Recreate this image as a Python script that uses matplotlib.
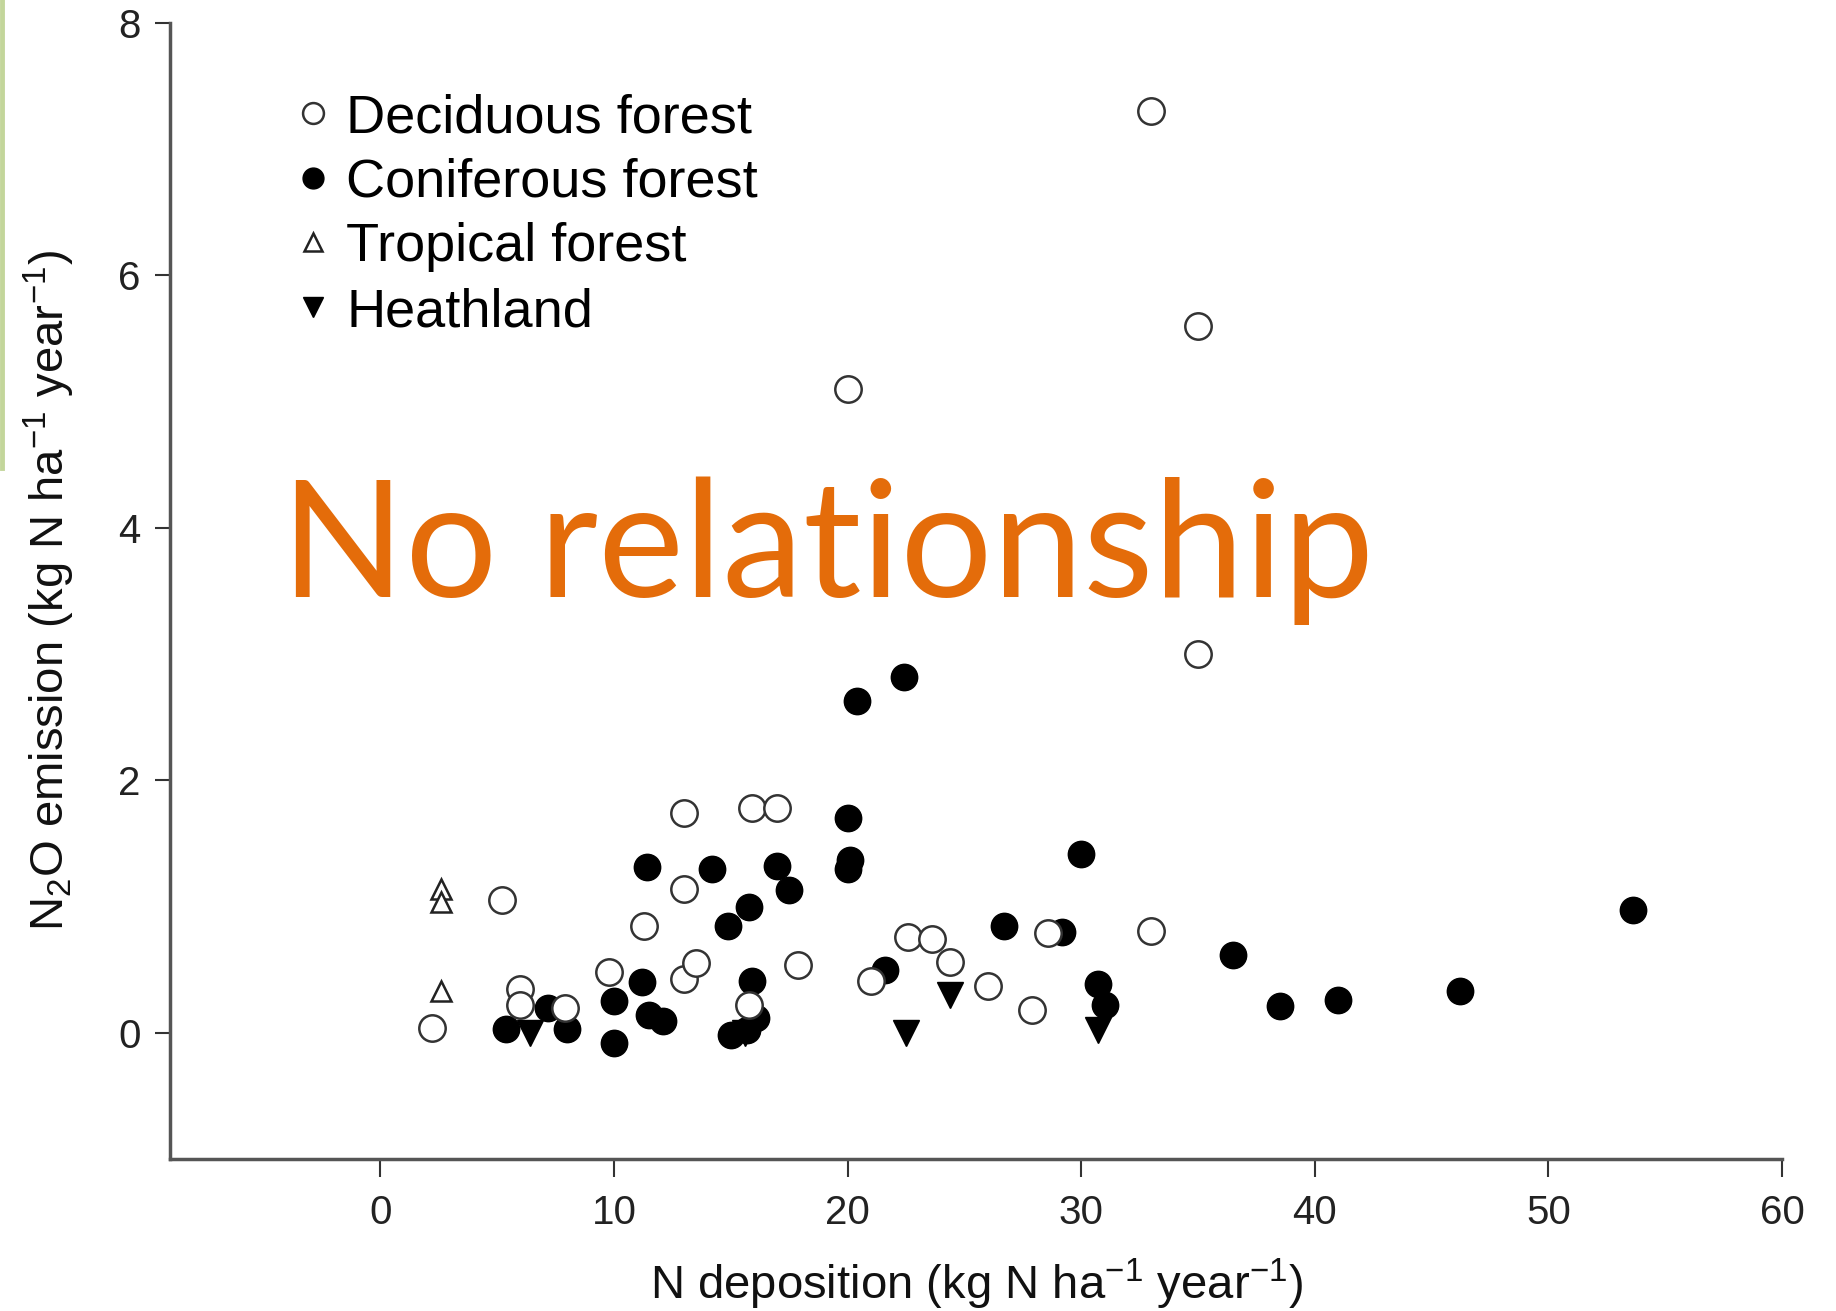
import matplotlib.pyplot as plt
from matplotlib.lines import Line2D

# N deposition (x) vs N2O emission (y)
decid_x = [2.2, 5.2, 6.0, 6.0, 7.9, 9.8, 11.3, 13.0, 13.0, 13.0, 13.5, 15.9, 17.0,
           15.8, 17.9, 20.0, 21.0, 22.6, 23.6, 24.4, 26.0, 27.9, 28.6, 33.0, 33.0,
           35.0, 35.0]
decid_y = [0.04, 1.05, 0.35, 0.22, 0.2, 0.48, 0.85, 1.74, 1.14, 0.43, 0.55, 1.78, 1.78,
           0.22, 0.54, 5.1, 0.41, 0.76, 0.74, 0.56, 0.37, 0.18, 0.79, 7.3, 0.81,
           5.6, 3.0]

conif_x = [5.4, 7.2, 8.0, 10.0, 10.0, 11.2, 11.4, 11.5, 12.1, 14.2, 14.9, 15.8,
           17.0, 17.5, 15.0, 15.7, 16.1, 15.9, 20.0, 20.0, 20.1, 20.4, 22.4, 21.6,
           26.7, 29.2, 30.0, 30.7, 31.0, 36.5, 38.5, 41.0, 46.2, 53.6]
conif_y = [0.03, 0.2, 0.03, 0.25, -0.08, 0.4, 1.31, 0.14, 0.09, 1.3, 0.85, 1.0,
           1.32, 1.13, -0.02, 0.02, 0.12, 0.41, 1.7, 1.3, 1.37, 2.63, 2.82, 0.5,
           0.85, 0.8, 1.42, 0.39, 0.22, 0.62, 0.21, 0.26, 0.33, 0.97]

trop_x = [2.6, 2.6, 2.6]
trop_y = [1.14, 1.04, 0.33]

heath_x = [6.4, 15.6, 22.5, 24.4, 30.7]
heath_y = [0.0, 0.0, 0.0, 0.3, 0.02]

x_ticks = [0, 10, 20, 30, 40, 50, 60]
y_ticks = [0, 2, 4, 6, 8]

plt.rcParams['font.family'] = ['Liberation Sans', 'DejaVu Sans']
plt.rcParams['mathtext.fontset'] = 'custom'
plt.rcParams['mathtext.rm'] = 'Liberation Sans'

fig = plt.figure(figsize=(18.36, 13.11), dpi=100)
ax = fig.add_axes([0.0926, 0.1159, 0.878, 0.8666])

ms = 19
ax.plot(heath_x, heath_y, 'v', color='black', markersize=ms, linestyle='none',
        label='Heathland', zorder=2)
ax.plot(conif_x, conif_y, 'o', color='black', markersize=ms, linestyle='none',
        label='Coniferous forest', zorder=3)
ax.plot(trop_x, trop_y, '^', markerfacecolor='white', markeredgecolor='#222222',
        markeredgewidth=1.8, markersize=14, linestyle='none', label='Tropical forest', zorder=4)
ax.plot(decid_x, decid_y, 'o', markerfacecolor='white', markeredgecolor='#333333',
        markeredgewidth=1.8, markersize=ms, linestyle='none', label='Deciduous forest', zorder=4)

ax.set_xlim(-9, 60)
ax.set_ylim(-1, 8)
ax.set_xticks(x_ticks)
ax.set_yticks(y_ticks)
ax.tick_params(axis='both', direction='out', labelsize=29, colors='#333333',
               width=1.5, labelcolor='#222222')
ax.tick_params(axis='x', length=13, pad=12)
ax.tick_params(axis='y', length=11, pad=10)

for side in ['top', 'right']:
    ax.spines[side].set_visible(False)
for side in ['left', 'bottom']:
    ax.spines[side].set_color('#555555')
    ax.spines[side].set_linewidth(2.5)

ax.set_xlabel('N deposition (kg N ha$^{-1}$ year$^{-1}$)', fontsize=34, color='#111111')
ax.set_ylabel('N$_2$O emission (kg N ha$^{-1}$ year$^{-1}$)', fontsize=34, color='#111111')
ax.xaxis.set_label_coords(0.5, -0.086)
ax.yaxis.set_label_coords(-0.058, 0.5)

# legend in the same order as the figure
handles = [
    Line2D([], [], marker='o', linestyle='none', markerfacecolor='white',
           markeredgecolor='#333333', markeredgewidth=1.8, markersize=15),
    Line2D([], [], marker='o', linestyle='none', color='black', markersize=15),
    Line2D([], [], marker='^', linestyle='none', markerfacecolor='white',
           markeredgecolor='#222222', markeredgewidth=1.8, markersize=13),
    Line2D([], [], marker='v', linestyle='none', color='black', markersize=15),
]
labels = ['Deciduous forest', 'Coniferous forest', 'Tropical forest', 'Heathland']
ax.legend(handles, labels, loc='upper left', bbox_to_anchor=(0.055, 0.962),
          frameon=False, fontsize=39, handletextpad=0.12, labelspacing=0.27,
          handlelength=1.0, borderpad=0.0)

fig.text(0.153, 0.5446, 'No relationship', fontsize=117, color='#E46C0A',
         family=['Lato', 'DejaVu Sans'], va='baseline', ha='left')

# thin green stripe on the left edge
fig.add_artist(Line2D([0.001, 0.001], [1.0, 0.643], transform=fig.transFigure,
                      color='#C3D69B', linewidth=3.5))

fig.savefig('out.png', dpi=100)
